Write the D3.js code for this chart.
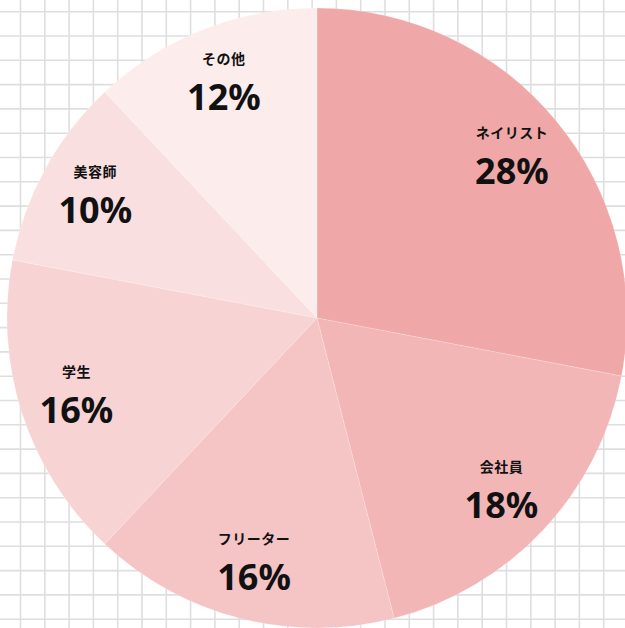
<!DOCTYPE html>
<html><head><meta charset="utf-8">
<script src="https://cdn.jsdelivr.net/npm/d3@7"></script>
<style>html,body{margin:0;padding:0;background:#fff;overflow:hidden}</style>
</head><body>
<svg id="chart" width="625" height="628"></svg>
<script>
const categories = ["ネイリスト", "会社員", "フリーター", "学生", "美容師", "その他"];
const values = [28, 18, 16, 16, 10, 12];
const colors = ["#f0a7a8", "#f3b6b6", "#f5c4c5", "#f7d3d3", "#fadfe0", "#fcecec"];

const W = 625, H = 628;
const svg = d3.select("#chart");
const cx = 317, cy = 318, R = 310, labelR = 253;
const cell = 24.3;

// grid background
const g0 = svg.append("g");
const xs = d3.range(20.5 - cell, W + cell, cell);
const ys = d3.range(11.7 - cell, H + cell, cell);
g0.selectAll("line.v").data(xs).join("line").attr("class","v")
  .attr("x1", d => d).attr("x2", d => d).attr("y1", 0).attr("y2", H)
  .attr("stroke", "#dedede").attr("stroke-width", 1.6);
g0.selectAll("line.h").data(ys).join("line").attr("class","h")
  .attr("y1", d => d).attr("y2", d => d).attr("x1", 0).attr("x2", W)
  .attr("stroke", "#dedede").attr("stroke-width", 1.6);

const pie = d3.pie().sort(null).value(d => d.v);
const data = pie(categories.map((c, i) => ({c, v: values[i], col: colors[i]})));
const arc = d3.arc().innerRadius(0).outerRadius(R);
const labelArc = d3.arc().innerRadius(labelR).outerRadius(labelR);

const g = svg.append("g").attr("transform", `translate(${cx},${cy})`);
g.selectAll("path").data(data).join("path")
  .attr("d", arc).attr("fill", d => d.data.col)
  .attr("stroke", "#ffffff").attr("stroke-opacity", 0.3).attr("stroke-width", 0.6);

const lab = g.selectAll("g.lab").data(data).join("g").attr("class","lab")
  .attr("transform", d => `translate(${labelArc.centroid(d)})`);
lab.append("text").text(d => d.data.c)
  .attr("text-anchor", "middle").attr("y", -24).attr("dy", "0.35em")
  .attr("font-family", "'Noto Sans CJK JP', 'Noto Sans', sans-serif")
  .attr("font-weight", 700).attr("font-size", 14).attr("fill", "#111")
  .attr("letter-spacing", 0.5);
lab.append("text").text(d => d.data.v + "%")
  .attr("text-anchor", "middle").attr("y", 14).attr("dy", "0.36em")
  .attr("font-family", "'Noto Sans', 'DejaVu Sans', sans-serif")
  .attr("font-weight", 700).attr("font-size", 36).attr("fill", "#111");
</script>
</body></html>
